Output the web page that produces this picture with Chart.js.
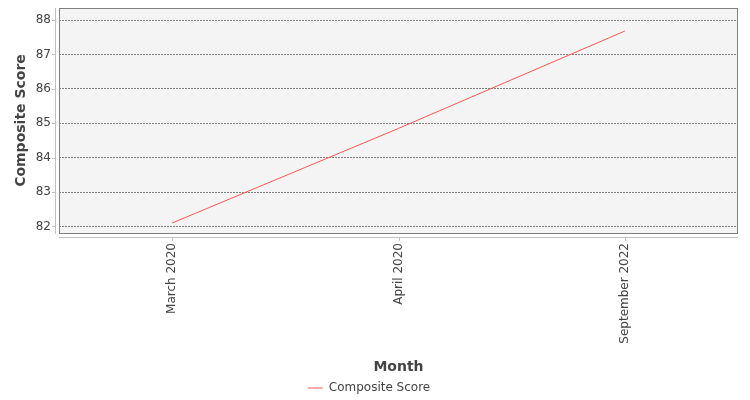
<!DOCTYPE html>
<html>
<head>
<meta charset="utf-8">
<script src="https://cdn.jsdelivr.net/npm/chart.js@4/dist/chart.umd.min.js"></script>
<style>
  body { margin: 0; background: #fff; }
  canvas { display: block; }
</style>
</head>
<body>
<canvas id="my-chart" width="750" height="400"></canvas>
<script>
var months = ['March 2020', 'April 2020', 'September 2022'];
var scores = [82.1, 84.85, 87.68];
var yTicks = [82, 83, 84, 85, 86, 87, 88];

var FONT = 'DejaVu Sans';

// plot background, border, offset axis lines like the original
var plotFrame = {
	id: 'plotFrame',
	beforeDraw: function (chart) {
		var c = chart.ctx, a = chart.chartArea;
		c.save();
		c.fillStyle = '#fff';
		c.fillRect(0, 0, chart.width, chart.height);
		c.fillStyle = '#f4f4f4';
		c.fillRect(a.left, a.top, a.right - a.left, a.bottom - a.top);
		c.restore();
	},
	afterDraw: function (chart) {
		var c = chart.ctx, a = chart.chartArea;
		var xs = chart.scales.x, ys = chart.scales.y;
		c.save();
		c.strokeStyle = '#808080';
		c.lineWidth = 1;
		c.strokeRect(a.left + 0.5, a.top + 0.5, a.right - a.left - 1, a.bottom - a.top);
		c.strokeStyle = '#c0c0c0';
		c.beginPath();
		c.moveTo(a.left - 3.5, a.top);
		c.lineTo(a.left - 3.5, a.bottom + 1);
		c.moveTo(a.left, a.bottom + 4.5);
		c.lineTo(a.right, a.bottom + 4.5);
		yTicks.forEach(function (v) {
			var y = Math.round(ys.getPixelForValue(v)) + 0.5;
			c.moveTo(a.left - 7, y);
			c.lineTo(a.left - 3, y);
		});
		months.forEach(function (m, i) {
			var x = Math.round(xs.getPixelForValue(i)) + 0.5;
			c.moveTo(x, a.bottom + 4);
			c.lineTo(x, a.bottom + 8);
		});
		c.stroke();
		c.restore();
	}
};

var ctx = document.getElementById('my-chart');
var myChart = new Chart(ctx, {
	type: 'line',
	data: {
		labels: months,
		datasets: [{
			label: 'Composite Score',
			data: scores,
			borderColor: '#ff5555',
			backgroundColor: '#ff5555',
			borderWidth: 1,
			pointRadius: 0,
			tension: 0,
			fill: false
		}]
	},
	options: {
		responsive: false,
		animation: false,
		devicePixelRatio: 1,
		layout: { padding: { left: 0, right: 12, top: 8, bottom: 0 } },
		plugins: {
			legend: {
				position: 'bottom',
				maxHeight: 20,
				labels: {
					font: { family: FONT, size: 12 },
					color: '#444',
					usePointStyle: true,
					pointStyle: 'line',
					pointStyleWidth: 15,
					padding: 2
				}
			},
			tooltip: { enabled: false }
		},
		scales: {
			x: {
				offset: true,
				border: { display: false },
				grid: { display: false, drawTicks: false },
				ticks: {
					font: { family: FONT, size: 12 },
					color: '#444',
					minRotation: 90,
					maxRotation: 90,
					padding: 10
				},
				title: {
					display: true,
					text: 'Month',
					font: { family: FONT, size: 14, weight: 'bold' },
					color: '#444',
					padding: { top: 0, bottom: 4 }
				},
				afterFit: function (s) { s.height = 147; }
			},
			y: {
				min: 81.81,
				max: 88.35,
				border: { display: false, dash: [2, 1] },
				grid: {
					drawTicks: false,
					color: '#808080',
					lineWidth: 1
				},
				ticks: {
					stepSize: 1,
					font: { family: FONT, size: 12 },
					color: '#444',
					padding: 8
				},
				afterBuildTicks: function (s) {
					s.ticks = yTicks.map(function (v) { return { value: v }; });
				},
				title: {
					display: true,
					text: 'Composite Score',
					font: { family: FONT, size: 14, weight: 'bold' },
					color: '#444',
					padding: { top: 13, bottom: 0 }
				},
				afterFit: function (s) {
					s.width = 59;
					s.paddingTop = 0;
					s.paddingBottom = 0;
				}
			}
		}
	},
	plugins: [plotFrame]
});
</script>
</body>
</html>
